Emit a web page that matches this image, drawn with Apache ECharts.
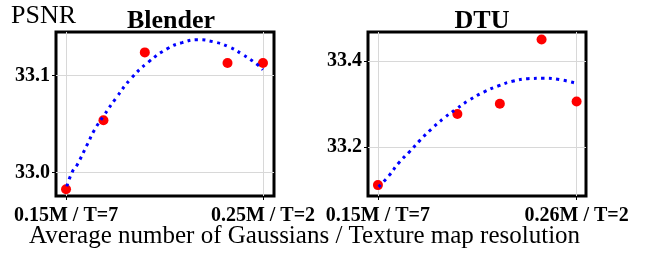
<!DOCTYPE html>
<html><head><meta charset="utf-8">
<script src="https://cdn.jsdelivr.net/npm/echarts@6/dist/echarts.min.js"></script>
<style>html,body{margin:0;padding:0;background:#fff;}#c{width:649px;height:255px;}</style>
</head><body><div id="c"></div>
<script>
// Blender panel data
const blenderX = [0.150, 0.169, 0.190, 0.232, 0.250];
const blenderY = [32.983, 33.054, 33.124, 33.113, 33.113];
const blenderFitX = [0.1504, 0.1532, 0.1556, 0.1610, 0.1644, 0.1689, 0.1754, 0.1830, 0.1918, 0.2016, 0.2089, 0.2169, 0.2246, 0.2324, 0.2395, 0.2468, 0.2500];
const blenderFitY = [32.986, 33.001, 33.008, 33.030, 33.044, 33.058, 33.077, 33.097, 33.114, 33.128, 33.134, 33.137, 33.135, 33.130, 33.122, 33.112, 33.106];
const blenderXTicks = [0.15, 0.25];
const blenderXLabels = ['0.15M / T=7', '0.25M / T=2'];
const blenderYTicks = [33.0, 33.1];
const blenderYLabels = ['33.0', '33.1'];

// DTU panel data
const dtuX = [0.150, 0.194, 0.2175, 0.2406, 0.260];
const dtuY = [33.112, 33.277, 33.301, 33.450, 33.306];
const dtuFitX = [0.1504, 0.1561, 0.1616, 0.1676, 0.1735, 0.1796, 0.1864, 0.1935, 0.2008, 0.2086, 0.2164, 0.2245, 0.2330, 0.2415, 0.2504, 0.2592];
const dtuFitY = [33.108, 33.134, 33.164, 33.190, 33.217, 33.242, 33.267, 33.289, 33.310, 33.328, 33.342, 33.353, 33.359, 33.360, 33.357, 33.349];
const dtuXTicks = [0.15, 0.26];
const dtuXLabels = ['0.15M / T=7', '0.26M / T=2'];
const dtuYTicks = [33.2, 33.4];
const dtuYLabels = ['33.2', '33.4'];

const FONT = '"Liberation Serif", "Times New Roman", serif';
const zip = (a, b) => a.map((v, i) => [v, b[i]]);

function xAxis(idx, min, max, ticks, labels) {
  return {
    type: 'value', gridIndex: idx, min: min, max: max,
    axisLine: { show: false },
    axisTick: { show: true, customValues: ticks, length: 4, lineStyle: { color: '#000', width: 1 } },
    axisLabel: {
      customValues: ticks, margin: 10, color: '#000', fontFamily: FONT, fontWeight: 'bold', fontSize: 20,
      formatter: v => { const i = ticks.findIndex(t => Math.abs(t - v) < 1e-9); return i >= 0 ? labels[i] : ''; }
    },
    splitLine: { show: true, lineStyle: { color: '#d8d8d8', width: 1 } }
  };
}
function yAxis(idx, min, max, ticks, labels) {
  return {
    type: 'value', gridIndex: idx, min: min, max: max,
    axisLine: { show: false },
    axisTick: { show: true, customValues: ticks, length: 4, lineStyle: { color: '#000', width: 1 } },
    axisLabel: {
      customValues: ticks, margin: 6, color: '#000', fontFamily: FONT, fontWeight: 'bold', fontSize: 20,
      formatter: v => { const i = ticks.findIndex(t => Math.abs(t - v) < 1e-9); return i >= 0 ? labels[i] : ''; }
    },
    splitLine: { show: true, lineStyle: { color: '#d8d8d8', width: 1 } }
  };
}
const lineStyle = { color: '#0000ff', width: 3, type: [3, 4.5] };

const chart = echarts.init(document.getElementById('c'), null, { renderer: 'canvas' });
chart.setOption({
  animation: false,
  backgroundColor: '#fff',
  title: [
    { text: 'Blender', left: 166, top: 3, textAlign: 'center',
      textStyle: { fontFamily: FONT, fontWeight: 'bold', fontSize: 26, color: '#000' } },
    { text: 'DTU', left: 477, top: 3, textAlign: 'center',
      textStyle: { fontFamily: FONT, fontWeight: 'bold', fontSize: 26, color: '#000' } }
  ],
  graphic: [
    { type: 'text', left: 11, top: 3, style: { text: 'PSNR', font: '26px ' + FONT, fill: '#000' } },
    { type: 'text', left: 29, top: 224, style: { text: 'Average number of Gaussians / Texture map resolution', font: '25px ' + FONT, fill: '#000' } }
  ],
  grid: [
    { left: 56, top: 32, width: 218, height: 164, show: true, borderColor: '#000', borderWidth: 3, backgroundColor: 'transparent' },
    { left: 368, top: 32, width: 218, height: 164, show: true, borderColor: '#000', borderWidth: 3, backgroundColor: 'transparent' }
  ],
  xAxis: [
    xAxis(0, 0.1449, 0.2556, blenderXTicks, blenderXLabels),
    xAxis(1, 0.1445, 0.2652, dtuXTicks, dtuXLabels)
  ],
  yAxis: [
    yAxis(0, 32.976, 33.145, blenderYTicks, blenderYLabels),
    yAxis(1, 33.0867, 33.4674, dtuYTicks, dtuYLabels)
  ],
  series: [
    { type: 'scatter', xAxisIndex: 0, yAxisIndex: 0, data: zip(blenderX, blenderY), symbolSize: 10, itemStyle: { color: '#ff0000', opacity: 1 }, z: 2 },
    { type: 'line', xAxisIndex: 0, yAxisIndex: 0, data: zip(blenderFitX, blenderFitY), smooth: true, showSymbol: false, lineStyle: lineStyle, z: 3 },
    { type: 'scatter', xAxisIndex: 1, yAxisIndex: 1, data: zip(dtuX, dtuY), symbolSize: 10, itemStyle: { color: '#ff0000', opacity: 1 }, z: 2 },
    { type: 'line', xAxisIndex: 1, yAxisIndex: 1, data: zip(dtuFitX, dtuFitY), smooth: true, showSymbol: false, lineStyle: lineStyle, z: 3 }
  ]
});
</script></body></html>
